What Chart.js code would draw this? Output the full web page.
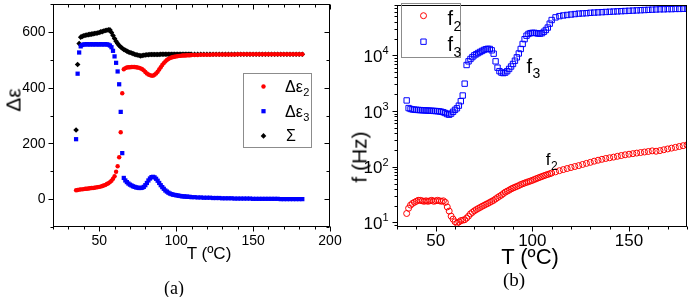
<!DOCTYPE html>
<html>
<head>
<meta charset="utf-8">
<script src="https://cdn.jsdelivr.net/npm/chart.js"></script>
<style>
  body { margin: 0; width: 692px; height: 297px; background: #fff; position: relative; overflow: hidden;
         font-family: "Liberation Sans", Arial, sans-serif; }
  canvas { position: absolute; top: 0; }
  #chartA { left: 0; }
  #chartB { left: 350px; }
  .lbl { position: absolute; white-space: nowrap; color: #000; line-height: 1; transform: translate(-50%, -50%); }
  .rot { transform: translate(-50%, -50%) rotate(-90deg); }
  .serif { font-family: "Liberation Serif", "Times New Roman", serif; }
</style>
</head>
<body>
<canvas id="chartA" width="345" height="297"></canvas>
<canvas id="chartB" width="342" height="297"></canvas>

<div class="lbl rot" style="left:13px; top:100px; font-size:21px;">Δε</div>
<div class="lbl" style="left:209px; top:253px; font-size:17px;">T (ºC)</div>
<div class="lbl serif" style="left:174px; top:288px; font-size:18px;">(a)</div>

<div class="lbl rot" style="left:359px; top:157px; font-size:21px;">f (Hz)</div>
<div class="lbl" style="left:530px; top:257px; font-size:22px;">T (ºC)</div>
<div class="lbl serif" style="left:514px; top:279px; font-size:19px;">(b)</div>

<script>
// temperature (°C) of every measurement
const temps = [35,36,37,38,39,40,41,42,43,44,45,46,47,48,49,50,51,52,53,54,
  55,56,57,58,59,60,61,62,63,64,65,66,67,68,69,70,71,72,73,74,
  75,76,77,78,79,80,81,82,83,84,85,86,87,88,89,90,91,92,93,94,
  95,96,97,98,99,100,101,102,103,104,105,106,107,108,109,110,
  112,114,116,118,120,122,124,126,128,130,132,134,136,138,140,142,144,146,148,150,
  152,154,156,158,160,162,164,166,168,170,172,174,176,178,180,182];

// panel (a): dielectric strengths
const de2 = [32,33,34,35,35,36,37,37,38,39, 40,40,41,42,43,44,45,47,49,51,
  54,57,61,66,73,82,98,118,150,240, 380,466,470,472,473,473,474,474,474,473,
  472,471,469,466,462,456,451,447,445,443, 443,446,451,457,465,473,481,488,494,499,
  503,506,508,510,511,512,513,514,514,515, 515,515,516,516,516,517,
  517,517,518,518,518,518,519,519,519,519, 519,519,519,519,520,520,520,520,520,520,
  520,520,520,520,520,520,520,520,520,520, 520,520,520,520,520,520];
const de3 = [215,450,526,548,553,555,555,556,555,555, 556,555,555,556,555,555,556,555,555,556,
  555,554,551,545,532,512,489,458,412,313, 165,76,67,61,56,52,49,46,44,42,
  41,40,40,41,44,50,58,67,74,79, 80,78,73,66,58,50,43,37,31,27,
  23,20,18,16,15,14,13,12,11,10, 10,9,9,8,8,7,
  7,6,6,5,5,5,4,4,4,3, 3,3,3,2,2,2,2,2,2,1,
  1,1,1,1,1,1,1,1,0,0, 0,0,0,0,0,0];
const sigma = [248,483,558,581,584,586,588,589,590,591, 592,593,594,595,596,598,600,601,603,605,
  606,607,607,598,587,576,566,558,551,546, 541,537,534,531,528,526,524,522,520,518,
  517,515,514,515,516,517,518,518,519,519, 519,519,519,519,519,520,520,520,520,520,
  520,520,520,520,520,520,520,520,520,520, 520,520,520,520,520,520,
  520,520,520,520,520,520,520,520,520,520, 520,520,520,520,520,520,520,520,520,520,
  520,520,520,520,520,520,520,520,520,520, 520,520,520,520,520,520];

// panel (b): relaxation frequencies (Hz)
const f2 = [14.5,18,20.5,22,23,24,25,25,24.5,24, 24.5,24,24.5,25,24,24.5,25,24.5,24,24.5,
  23,19,16,13,11.5,10.3,9.7,10.2,10.8,11, 11.2,12,13,14.3,15.2,16.2,17,17.8,18.6,19.5,
  20.3,21.2,22,23,24,25,26.5,28,29.5,31, 33,35,36.5,38,40,41.5,43,44.5,46,48,
  49.5,51,52.5,54,55.5,57,59,61,63,65, 67,69,71,73,75,77,
  81,85,89,93,97,101,105,110,115,120, 126,131,136,141,145,149,154,159,164,168,
  172,176,180,184,188,193,190,195,202,209, 216,223,231,239,247,255];
const f3 = [1550,1130,1090,1070,1060,1050,1045,1040,1035,1030, 1025,1020,1015,1010,1005,1000,995,985,970,950,
  920,880,860,900,970,1050,1120,1250,1500,1900, 3100,6700,7800,8600,9300,10000,10500,11000,11500,12000,
  12500,12900,13100,13000,12300,10700,7800,6000,5200,4900, 4800,4900,5200,5700,6300,7000,8000,9200,10800,13000,
  16000,19500,22500,24200,25000,25300,25300,25000,24600,24500, 25000,26500,28500,31500,37000,43000,
  48000,50500,52000,53000,54000,55000,56000,56500,57000,58000, 58500,59000,59500,60000,60500,61000,61500,62000,62500,63000,
  63500,64000,64500,65000,65500,66000,66500,67000,67000,67500, 67500,68000,68000,68500,68500,69000];

// tick labels
const xLabelsA = [50, 100, 150, 200];
const yLabelsA = [0, 200, 400, 600];
const xLabelsB = [50, 100, 150];
const yPowersB = [1, 2, 3, 4];

const FONT = '"Liberation Sans", Arial, sans-serif';
const pts = arr => temps.map((t, i) => ({ x: t, y: arr[i] }));

function drawMarker(ctx, style, x, y, r, fill, stroke) {
  ctx.beginPath();
  if (style === 'circle') ctx.arc(x, y, r, 0, Math.PI * 2);
  else if (style === 'rect') { const s = r * Math.SQRT1_2; ctx.rect(x - s, y - s, 2 * s, 2 * s); }
  else { ctx.moveTo(x, y - r); ctx.lineTo(x + r, y); ctx.lineTo(x, y + r); ctx.lineTo(x - r, y); ctx.closePath(); }
  if (fill) { ctx.fillStyle = fill; ctx.fill(); }
  if (stroke) { ctx.strokeStyle = stroke; ctx.lineWidth = 1; ctx.stroke(); }
}

function subText(ctx, base, sub, x, y, size) {
  ctx.textAlign = 'left';
  ctx.textBaseline = 'alphabetic';
  ctx.fillStyle = '#000';
  ctx.font = size + 'px ' + FONT;
  ctx.fillText(base, x, y);
  const w = ctx.measureText(base).width;
  ctx.font = Math.round(size * 0.68) + 'px ' + FONT;
  ctx.fillText(sub, x + w + 0.5, y + size * 0.28);
}

// frame, minor/major ticks and tick labels
const frame = {
  id: 'frame',
  afterDatasetsDraw(chart, args, o) {
    const { ctx, chartArea: a } = chart;
    const x = chart.scales.x, y = chart.scales.y;
    const L = Math.round(a.left) + 0.5, R = Math.round(a.right) - 0.5;
    const T = Math.round(a.top) + 0.5, B = Math.round(a.bottom) - 0.5;
    ctx.save();
    ctx.strokeStyle = '#000';
    ctx.lineWidth = 1;
    ctx.strokeRect(L, T, R - L, B - T);
    ctx.beginPath();
    x.ticks.forEach(t => {
      const px = Math.round(x.getPixelForValue(t.value)) + 0.5;
      const len = o.xLabels.includes(t.value) ? 5 : 3;
      ctx.moveTo(px, B); ctx.lineTo(px, B + len);
      if (o.mirror) { ctx.moveTo(px, T); ctx.lineTo(px, T + len); }
    });
    o.yTicks(y).forEach(([v, major]) => {
      const py = Math.round(y.getPixelForValue(v)) + 0.5;
      const len = major ? 5 : 3;
      ctx.moveTo(L, py); ctx.lineTo(L - len, py);
      if (o.mirror) { ctx.moveTo(R, py); ctx.lineTo(R - len, py); }
    });
    ctx.stroke();

    ctx.fillStyle = '#000';
    ctx.font = o.tickFont + 'px ' + FONT;
    ctx.textAlign = 'center';
    ctx.textBaseline = 'middle';
    o.xLabels.forEach(v => ctx.fillText(String(v), x.getPixelForValue(v), B + o.xOff));
    o.yLabels(ctx, y, L);
    ctx.restore();
  }
};

const noGrid = { display: false, drawTicks: false };

// ---------- panel (a) ----------
new Chart(document.getElementById('chartA'), {
  type: 'scatter',
  data: {
    datasets: [
      { label: 'Δε2', data: pts(de2), pointStyle: 'circle', pointRadius: 2.2, borderWidth: 0,
        backgroundColor: '#ff0000' },
      { label: 'Δε3', data: pts(de3), pointStyle: 'rect', pointRadius: 3, borderWidth: 0,
        backgroundColor: '#0000ff' },
      { label: 'Σ', data: pts(sigma), pointStyle: 'rectRot', pointRadius: 2.8, borderWidth: 0,
        backgroundColor: '#000000' }
    ]
  },
  options: {
    responsive: false,
    animation: false,
    layout: { padding: { left: 0, right: 15, top: 1, bottom: 0 } },
    plugins: {
      legend: { display: false },
      tooltip: { enabled: false },
      frame: {
        mirror: true, tickFont: 14, xOff: 15, xLabels: xLabelsA,
        yTicks: y => y.ticks.map(t => [t.value, yLabelsA.includes(t.value)]),
        yLabels: (ctx, y, L) => {
          ctx.textAlign = 'right';
          yLabelsA.forEach(v => ctx.fillText(String(v), L - 8, y.getPixelForValue(v) + 0.5));
        }
      }
    },
    scales: {
      x: { type: 'linear', min: 20, max: 200, grid: noGrid, border: { display: false },
           ticks: { display: false, stepSize: 10, autoSkip: false },
           afterFit: s => { s.height = 70; } },
      y: { min: -100, max: 700, grid: noGrid, border: { display: false },
           ticks: { display: false, stepSize: 100, autoSkip: false },
           afterFit: s => { s.width = 53; } }
    }
  },
  plugins: [frame, {
    id: 'legendA',
    afterDraw(chart) {
      const ctx = chart.ctx;
      ctx.save();
      ctx.strokeStyle = '#8c8c8c';
      ctx.lineWidth = 1;
      ctx.strokeRect(243.5, 73.5, 68, 74);
      chart.data.datasets.forEach((ds, i) => {
        const cy = 86.5 + i * 24.7;
        drawMarker(ctx, ds.pointStyle, 263.5, cy, ds.pointRadius, ds.backgroundColor);
        if (i < 2) subText(ctx, 'Δε', ds.label.slice(2), 285, cy + 5.5, 16);
        else subText(ctx, ds.label, '', 286, cy + 5.5, 16);
      });
      ctx.restore();
    }
  }]
});

// ---------- panel (b) ----------
new Chart(document.getElementById('chartB'), {
  type: 'scatter',
  data: {
    datasets: [
      { label: 'f2', data: pts(f2), pointStyle: 'circle', pointRadius: 3, borderWidth: 1,
        borderColor: '#ff0000', backgroundColor: 'rgba(0,0,0,0)' },
      { label: 'f3', data: pts(f3), pointStyle: 'rect', pointRadius: 3.8, borderWidth: 1,
        borderColor: '#0000ff', backgroundColor: 'rgba(0,0,0,0)' }
    ]
  },
  options: {
    responsive: false,
    animation: false,
    layout: { padding: { left: 0, right: 1, top: 1, bottom: 0 } },
    plugins: {
      legend: { display: false },
      tooltip: { enabled: false },
      frame: {
        mirror: false, tickFont: 17, xOff: 15, xLabels: xLabelsB,
        yTicks: y => {
          const out = [];
          for (let e = 0; e <= 4; e++) {
            for (let m = 1; m <= 9; m++) {
              const v = m * Math.pow(10, e);
              if (v >= y.min && v <= y.max) out.push([v, m === 1]);
            }
          }
          return out;
        },
        yLabels: (ctx, y, L) => {
          yPowersB.forEach(p => {
            const py = y.getPixelForValue(Math.pow(10, p));
            ctx.font = '11px ' + FONT;
            ctx.textAlign = 'right';
            ctx.textBaseline = 'alphabetic';
            const ew = ctx.measureText(String(p)).width;
            ctx.fillText(String(p), L - 9, py - 1);
            ctx.font = '17px ' + FONT;
            ctx.textBaseline = 'middle';
            ctx.fillText('10', L - 9 - ew, py + 2);
          });
        }
      }
    },
    scales: {
      x: { type: 'linear', min: 30, max: 180, grid: noGrid, border: { display: false },
           ticks: { display: false, stepSize: 10, autoSkip: false },
           afterFit: s => { s.height = 70; } },
      y: { type: 'logarithmic', min: 8.3, max: 80000, grid: noGrid, border: { display: false },
           ticks: { display: false },
           afterFit: s => { s.width = 47; } }
    }
  },
  plugins: [frame, {
    id: 'legendB',
    afterDraw(chart) {
      const ctx = chart.ctx, x = chart.scales.x, y = chart.scales.y;
      ctx.save();
      ctx.strokeStyle = '#8c8c8c';
      ctx.lineWidth = 1;
      ctx.strokeRect(51.5, 3.5, 59, 54);
      chart.data.datasets.forEach((ds, i) => {
        const cy = 15.7 + i * 26;
        drawMarker(ctx, ds.pointStyle, 73.5, cy, ds.pointRadius, null, ds.borderColor);
        subText(ctx, 'f', ds.label.slice(1), 97.5, cy + 9.5, 20);
      });
      // curve annotations
      subText(ctx, 'f', '3', x.getPixelForValue(97), y.getPixelForValue(4900), 20);
      subText(ctx, 'f', '2', x.getPixelForValue(107), y.getPixelForValue(108), 17);
      ctx.restore();
    }
  }]
});
</script>
</body>
</html>
